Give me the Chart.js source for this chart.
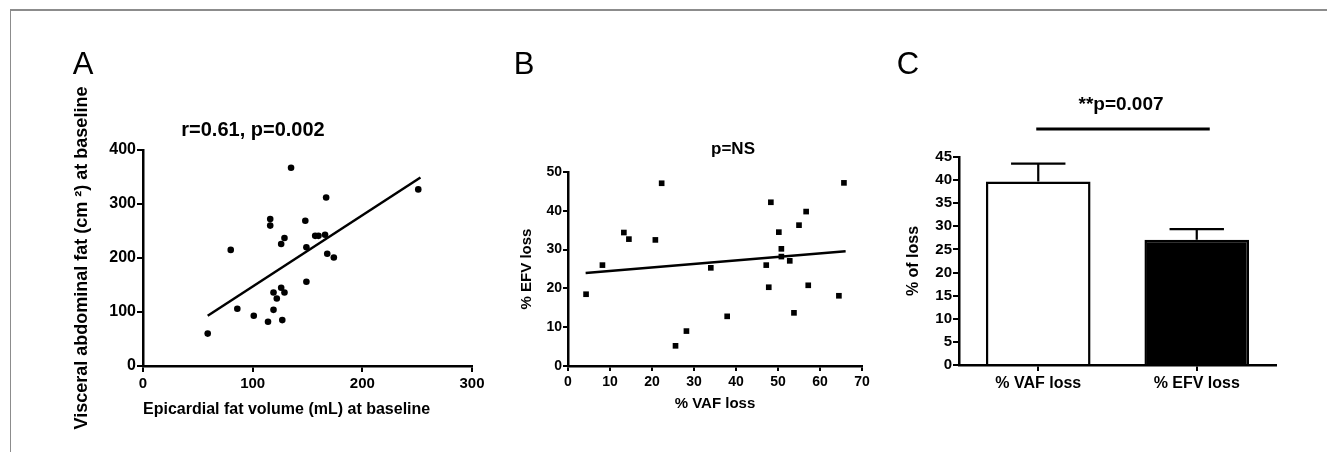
<!DOCTYPE html>
<html>
<head>
<meta charset="utf-8">
<script src="https://cdn.jsdelivr.net/npm/chart.js@4.4.1/dist/chart.umd.min.js"></script>
<style>
  body { margin: 0; background: #fff; width: 1327px; height: 452px; overflow: hidden; position: relative; }
  #frame { position: absolute; left: 10px; top: 9px; right: 0; bottom: -4px; border-top: 2px solid #8c8c8c; border-left: 1px solid #8c8c8c; }
  canvas { position: absolute; top: 0; }
</style>
</head>
<body>
<div id="frame"></div>
<canvas id="chartA" width="490" height="452" style="left:0"></canvas>
<canvas id="chartB" width="390" height="452" style="left:490px"></canvas>
<canvas id="chartC" width="447" height="452" style="left:880px"></canvas>
<script>
// Panel A: epicardial fat volume vs visceral abdominal fat
const efvBaseline = [59, 80, 86, 101, 114, 116, 116, 119, 119, 122, 126, 126, 127, 129, 129, 135, 148, 149, 149, 157, 160, 166, 167, 168, 174, 251];
const vafBaseline = [60, 215, 106, 93, 82, 272, 260, 104, 136, 125, 226, 145, 85, 237, 136, 367, 269, 220, 156, 241, 241, 243, 312, 208, 201, 327];
const fitAx = [59, 253];
const fitAy = [93, 349];

// Panel B: % VAF loss vs % EFV loss
const vafLoss = [4.3, 8.2, 13.3, 14.5, 20.8, 22.3, 25.6, 28.2, 34.0, 37.9, 47.2, 47.8, 48.3, 50.2, 50.8, 50.8, 52.8, 53.8, 55.0, 56.7, 57.2, 64.5, 65.7];
const efvLoss = [18.5, 26.0, 34.4, 32.7, 32.5, 47.1, 5.2, 9.0, 25.3, 12.8, 26.0, 20.3, 42.2, 34.5, 30.2, 28.2, 27.1, 13.7, 36.3, 39.8, 20.8, 18.1, 47.2];
const fitBx = [4.2, 66.1];
const fitBy = [24.0, 29.6];

// Panel C: mean % of loss with SEM
const lossLabels = ['% VAF loss', '% EFV loss'];
const lossMeans = [39.7, 27.1];
const lossSem = [3.85, 2.3];

const FONT = '"Liberation Sans", Arial, Helvetica, sans-serif';
Chart.defaults.font.family = FONT;
Chart.defaults.font.weight = 'bold';
Chart.defaults.color = '#000';

function pairs(xs, ys) {
    return xs.map((x, i) => ({ x: x, y: ys[i] }));
}

// panel letter + p-value note
const panelText = {
    id: 'panelText',
    afterDraw(chart, args, opts) {
        const ctx = chart.ctx;
        ctx.save();
        ctx.fillStyle = '#000';
        ctx.textAlign = 'center';
        ctx.textBaseline = 'middle';
        ctx.font = '31px ' + FONT;
        ctx.fillText(opts.letter, opts.letterX, opts.letterY);
        ctx.font = 'bold ' + opts.noteSize + 'px ' + FONT;
        ctx.fillText(opts.note, opts.noteX, opts.noteY);
        ctx.restore();
    }
};

// upward SEM bars and the significance bracket for panel C
const errorBars = {
    id: 'errorBars',
    afterDatasetsDraw(chart, args, opts) {
        const ctx = chart.ctx;
        const meta = chart.getDatasetMeta(0);
        const y = chart.scales.y;
        ctx.save();
        ctx.strokeStyle = '#000';
        ctx.lineWidth = 2.2;
        meta.data.forEach((bar, i) => {
            const top = y.getPixelForValue(lossMeans[i] + lossSem[i]);
            const half = bar.width * 0.26;
            ctx.beginPath();
            ctx.moveTo(bar.x, bar.y);
            ctx.lineTo(bar.x, top);
            ctx.moveTo(bar.x - half, top);
            ctx.lineTo(bar.x + half, top);
            ctx.stroke();
        });
        const x0 = meta.data[0].x - 2;
        const x1 = meta.data[1].x + 13;
        ctx.lineWidth = 3;
        ctx.beginPath();
        ctx.moveTo(x0, opts.lineY);
        ctx.lineTo(x1, opts.lineY);
        ctx.stroke();
        ctx.restore();
    }
};

function axis(size, pad, tick) {
    return {
        ticks: { font: { size: size, weight: 'bold' }, color: '#000', padding: pad },
        grid: { drawOnChartArea: false, color: '#000', lineWidth: 2, tickLength: tick },
        border: { color: '#000', width: 2.5 }
    };
}

// ---- A ----
const ax = axis(15, 3, 6);
ax.min = 0; ax.max = 300; ax.ticks.stepSize = 100;
ax.title = { display: true, text: 'Epicardial fat volume (mL) at baseline', align: 'start', font: { size: 16, weight: 'bold' }, padding: { top: 0, bottom: 33 } };
ax.afterFit = function (s) { s.height = 86; };
const ay = axis(16, 1, 6);
ay.min = 0; ay.max = 400; ay.ticks.stepSize = 100;
ay.title = { display: true, text: 'Visceral abdominal fat (cm \u00b2) at baseline', font: { size: 18, weight: 'bold' }, padding: { top: 71, bottom: 0 } };
ay.afterFit = function (s) { s.width = 143; };

new Chart(document.getElementById('chartA'), {
    type: 'scatter',
    data: {
        datasets: [
            { data: pairs(efvBaseline, vafBaseline), pointRadius: 3.3, backgroundColor: '#000', borderWidth: 0 },
            { data: pairs(fitAx, fitAy), showLine: true, pointRadius: 0, borderColor: '#000', borderWidth: 2.5 }
        ]
    },
    options: {
        responsive: false, animation: false, devicePixelRatio: 1,
        layout: { padding: { left: 0, right: 18, top: 150, bottom: 0 } },
        plugins: {
            legend: { display: false }, tooltip: { enabled: false },
            panelText: { letter: 'A', letterX: 83, letterY: 65, note: 'r=0.61, p=0.002', noteSize: 20, noteX: 253, noteY: 130 }
        },
        scales: { x: ax, y: ay }
    },
    plugins: [panelText]
});

// ---- B ----
const bx = axis(14, 3, 5);
bx.min = 0; bx.max = 70; bx.ticks.stepSize = 10;
bx.title = { display: true, text: '% VAF loss', font: { size: 15, weight: 'bold' }, padding: { top: 0, bottom: 39 } };
bx.afterFit = function (s) { s.height = 86; };
const by = axis(14, 1, 5);
by.min = 0; by.max = 50; by.ticks.stepSize = 10;
by.title = { display: true, text: '% EFV loss', font: { size: 15, weight: 'bold' }, padding: { top: 28, bottom: 0 } };
by.afterFit = function (s) { s.width = 78; };

new Chart(document.getElementById('chartB'), {
    type: 'scatter',
    data: {
        datasets: [
            { data: pairs(vafLoss, efvLoss), pointStyle: 'rect', pointRadius: 4, backgroundColor: '#000', borderWidth: 0 },
            { data: pairs(fitBx, fitBy), showLine: true, pointRadius: 0, borderColor: '#000', borderWidth: 2.5 }
        ]
    },
    options: {
        responsive: false, animation: false, devicePixelRatio: 1,
        layout: { padding: { left: 0, right: 18, top: 172, bottom: 0 } },
        plugins: {
            legend: { display: false }, tooltip: { enabled: false },
            panelText: { letter: 'B', letterX: 34, letterY: 65, note: 'p=NS', noteSize: 17, noteX: 243, noteY: 149 }
        },
        scales: { x: bx, y: by }
    },
    plugins: [panelText]
});

// ---- C ----
const cx = axis(16, 3, 6);
cx.grid.offset = false;
cx.afterFit = function (s) { s.height = 87; };
const cy = axis(15, 1, 6);
cy.min = 0; cy.max = 45; cy.ticks.stepSize = 5;
cy.title = { display: true, text: '% of loss', font: { size: 16, weight: 'bold' }, padding: { top: 24, bottom: 0 } };
cy.afterFit = function (s) { s.width = 79; };

new Chart(document.getElementById('chartC'), {
    type: 'bar',
    data: {
        labels: lossLabels,
        datasets: [{
            data: lossMeans,
            backgroundColor: ['#fff', '#000'],
            borderColor: '#000',
            borderWidth: 2.5,
            borderSkipped: 'bottom',
            categoryPercentage: 1,
            barPercentage: 0.66
        }]
    },
    options: {
        responsive: false, animation: false, devicePixelRatio: 1,
        layout: { padding: { left: 0, right: 51, top: 157, bottom: 0 } },
        plugins: {
            legend: { display: false }, tooltip: { enabled: false },
            panelText: { letter: 'C', letterX: 28, letterY: 65, note: '**p=0.007', noteSize: 19, noteX: 241, noteY: 105 },
            errorBars: { lineY: 129 }
        },
        scales: { x: cx, y: cy }
    },
    plugins: [panelText, errorBars]
});
</script>
</body>
</html>
